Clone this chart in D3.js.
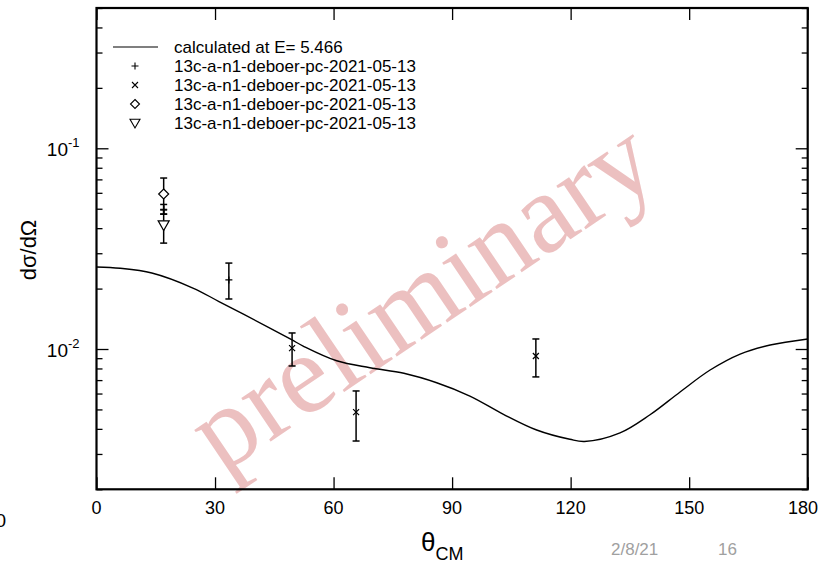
<!DOCTYPE html>
<html>
<head>
<meta charset="utf-8">
<script src="https://cdn.jsdelivr.net/npm/d3@7"></script>
<style>
html,body{margin:0;padding:0;background:#fff;}
svg{display:block;font-family:"Liberation Sans",Arial,Helvetica,sans-serif;}
</style>
</head>
<body>
<svg id="chart" width="821" height="567"></svg>
<script>
// ---- data ----
const xTicks = [0, 30, 60, 90, 120, 150, 180];
const yMajor = [0.01, 0.1];
const yMajorExp = ["-2", "-1"];
const yMinor = [0.002,0.003,0.004,0.005,0.006,0.007,0.008,0.009,
                0.02,0.03,0.04,0.05,0.06,0.07,0.08,0.09,0.2,0.3,0.4,0.5];

const curveTheta = [0, 6, 14, 24.4, 31, 44, 49.5, 52.3, 60.8, 69.2, 77.8, 86.1, 94.5, 103, 111.4, 119.8, 123.5, 132.5, 140, 147.7, 155.3, 162.9, 170.5, 180];
const curveVal   = [0.02563, 0.02525, 0.02391, 0.02013, 0.01724, 0.01268, 0.01109, 0.01035, 0.00874, 0.00807, 0.00757, 0.00679, 0.00583, 0.00473, 0.00395, 0.00355, 0.00346, 0.00382, 0.00469, 0.00611, 0.00786, 0.00944, 0.01047, 0.01122];

const plusTheta = [17, 33.5];
const plusVal   = [0.0497, 0.0221];
const plusLo    = [0.0470, 0.01775];
const plusHi    = [0.0525, 0.0268];

const crossTheta = [49.5, 65.7, 111.2];
const crossVal   = [0.0101, 0.00485, 0.00923];
const crossLo    = [0.00823, 0.00348, 0.00726];
const crossHi    = [0.01202, 0.00618, 0.01122];

const diamondTheta = [17];
const diamondVal   = [0.0592];
const diamondLo    = [0.0470];
const diamondHi    = [0.0711];

const triTheta = [17];
const triVal   = [0.0415];
const triLo    = [0.0337];
const triHi    = [0.0493];

const legendLabels = ["calculated at E= 5.466",
  "13c-a-n1-deboer-pc-2021-05-13",
  "13c-a-n1-deboer-pc-2021-05-13",
  "13c-a-n1-deboer-pc-2021-05-13",
  "13c-a-n1-deboer-pc-2021-05-13"];

// ---- layout ----
const L = 96.5, R = 807.7, T = 8, B = 489.3;
const svg = d3.select("#chart");
const x = d3.scaleLinear().domain([0, 180]).range([L, R]);
const y = d3.scaleLog().domain([0.002, 0.5]).range([B, T]);

// watermark
svg.append("text")
  .attr("transform", "translate(442,326) rotate(-34)")
  .attr("text-anchor", "middle")
  .attr("font-family", "'Liberation Serif','Times New Roman',serif")
  .attr("font-size", 114)
  .attr("fill", "rgb(236,192,192)")
  .text("preliminary");

// axes ticks (inside)
function tickAxis(axisFn, scale, vals, size, transform) {
  const g = svg.append("g").attr("transform", transform)
    .call(axisFn(scale).tickValues(vals).tickSize(-size).tickFormat(""));
  g.select(".domain").remove();
  g.selectAll("line").attr("stroke", "#000").attr("stroke-width", 1.3);
  return g;
}
tickAxis(d3.axisBottom, x, xTicks, 12, `translate(0,${B})`);
tickAxis(d3.axisTop, x, xTicks, 12, `translate(0,${T})`);
tickAxis(d3.axisLeft, y, yMajor, 12, `translate(${L},0)`);
tickAxis(d3.axisRight, y, yMajor, 12, `translate(${R},0)`);
tickAxis(d3.axisLeft, y, yMinor, 6, `translate(${L},0)`);
tickAxis(d3.axisRight, y, yMinor, 6, `translate(${R},0)`);

// x tick labels
svg.append("g").selectAll("text").data(xTicks).join("text")
  .attr("x", d => Math.min(x(d), 803)).attr("y", 514)
  .attr("text-anchor", "middle").attr("font-size", 18)
  .text(d => d);

// y tick labels
svg.append("g").selectAll("text").data(yMajor).join("text")
  .attr("x", 68).attr("y", d => y(d) + 8)
  .attr("text-anchor", "end").attr("font-size", 19)
  .text("10");
svg.append("g").selectAll("text").data(yMajor).join("text")
  .attr("x", 68).attr("y", d => y(d) - 1)
  .attr("font-size", 13)
  .text((d, i) => yMajorExp[i]);

// axis titles
svg.append("text")
  .attr("transform", "translate(36,250) rotate(-90)")
  .attr("text-anchor", "middle").attr("font-size", 22)
  .text("dσ/dΩ");
const xt = svg.append("text").attr("x", 421).attr("y", 551).attr("font-size", 26);
xt.append("tspan").text("θ");
xt.append("tspan").attr("dy", 9).attr("font-size", 18).text("CM");

// footer
svg.append("text").attr("x", 611).attr("y", 555).attr("font-size", 17).attr("fill", "#a0a0a0").text("2/8/21");
svg.append("text").attr("x", 718).attr("y", 555).attr("font-size", 17).attr("fill", "#a0a0a0").text("16");
svg.append("text").attr("x", 6).attr("y", 527).attr("text-anchor", "end").attr("font-size", 19).text("0");

// curve
const curveData = curveTheta.map((t, i) => [t, curveVal[i]]);
svg.append("path").datum(curveData)
  .attr("fill", "none").attr("stroke", "#000").attr("stroke-width", 1.4)
  .attr("d", d3.line().x(d => x(d[0])).y(d => y(d[1])).curve(d3.curveCatmullRom.alpha(0.5)));

// error bars
function errBars(th, lo, hi) {
  const g = svg.append("g").attr("stroke", "#000").attr("stroke-width", 1.5);
  th.forEach((t, i) => {
    const cx = x(t);
    g.append("line").attr("x1", cx).attr("x2", cx).attr("y1", y(lo[i])).attr("y2", y(hi[i]));
    g.append("line").attr("x1", cx - 3.5).attr("x2", cx + 3.5).attr("y1", y(lo[i])).attr("y2", y(lo[i]));
    g.append("line").attr("x1", cx - 3.5).attr("x2", cx + 3.5).attr("y1", y(hi[i])).attr("y2", y(hi[i]));
  });
}
errBars(plusTheta, plusLo, plusHi);
errBars(crossTheta, crossLo, crossHi);
errBars(diamondTheta, diamondLo, diamondHi);
errBars(triTheta, triLo, triHi);

// marker shapes
const plusPath = (cx, cy, s) => `M${cx - s},${cy}H${cx + s}M${cx},${cy - s}V${cy + s}`;
const crossPath = (cx, cy, s) => `M${cx - s},${cy - s}L${cx + s},${cy + s}M${cx - s},${cy + s}L${cx + s},${cy - s}`;
const diamondPath = (cx, cy, s) => `M${cx},${cy - s}L${cx + s},${cy}L${cx},${cy + s}L${cx - s},${cy}Z`;
const triPath = (cx, cy, s) => `M${cx - s},${cy - s * 0.75}L${cx + s},${cy - s * 0.75}L${cx},${cy + s}Z`;

function markers(th, val, fn, s, fill) {
  svg.append("g").selectAll("path").data(th).join("path")
    .attr("d", (t, i) => fn(x(t), y(val[i]), s))
    .attr("fill", fill).attr("stroke", "#000").attr("stroke-width", 1.2);
}
markers(plusTheta, plusVal, plusPath, 3.5, "none");
markers(crossTheta, crossVal, crossPath, 3, "none");
markers(diamondTheta, diamondVal, diamondPath, 5, "#fff");
markers(triTheta, triVal, triPath, 5.5, "#fff");

// legend
const legY = [47, 66, 85, 104, 123];
svg.append("line").attr("x1", 113).attr("x2", 158).attr("y1", legY[0]).attr("y2", legY[0])
  .attr("stroke", "#000").attr("stroke-width", 1.2);
const legFns = [plusPath, crossPath, diamondPath, triPath];
const legS = [3.5, 3, 4.5, 5];
legFns.forEach((fn, i) => {
  svg.append("path").attr("d", fn(135, legY[i + 1], legS[i]))
    .attr("fill", "none").attr("stroke", "#000").attr("stroke-width", 1.1);
});
svg.append("g").selectAll("text").data(legendLabels).join("text")
  .attr("x", 174).attr("y", (d, i) => legY[i] + 6)
  .attr("font-size", 17).text(d => d);

// frame
svg.append("rect").attr("x", L).attr("y", T).attr("width", R - L).attr("height", B - T)
  .attr("fill", "none").attr("stroke", "#000").attr("stroke-width", 2.2);
</script>
</body>
</html>
